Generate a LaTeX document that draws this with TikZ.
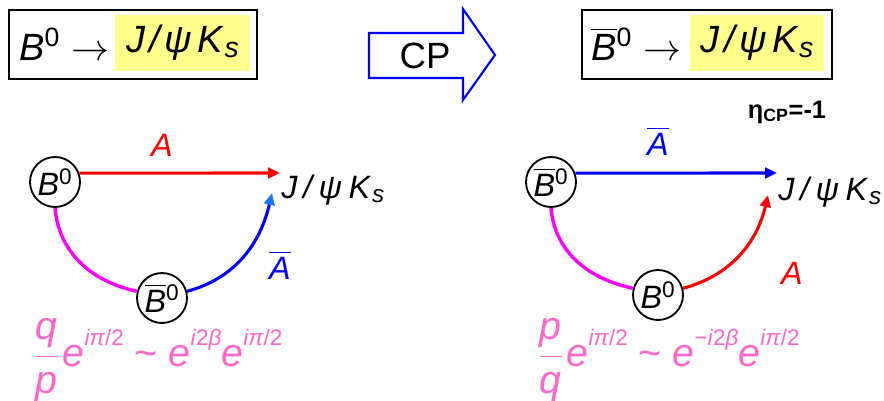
\RequirePackage{fix-cm}
\documentclass[tikz,border=0pt]{standalone}
\usepackage{amsmath}
\usepackage{fontspec}
\setmainfont{Liberation Sans}
\usetikzlibrary{arrows.meta,positioning}
\definecolor{hlyellow}{RGB}{255,255,140}
\definecolor{ampred}{RGB}{255,0,0}
\definecolor{ampblue}{RGB}{0,0,255}
\definecolor{tipblue}{RGB}{20,120,255}
\definecolor{mixmag}{RGB}{255,0,255}
\definecolor{phasepink}{RGB}{255,102,204}
\newcommand{\Bz}{\textit{B}\textsuperscript{0}}
\newcommand{\Bbz}{$\overline{\mbox{\itshape B}}$\textsuperscript{0}}
\newcommand{\Abar}{$\overline{\mbox{\itshape A}}$}
\newcommand{\fstate}{\textit{J\kern.18em/\kern.2emψ\kern.2emK}\kern.02em\raisebox{-.25ex}{\textsmaller{s}}}
\newcommand{\textsmaller}[1]{{\fontsize{.75\dimexpr\fontdimen6\font}{1em}\selectfont\itshape #1}}
\newcommand{\expo}[1]{\raisebox{1.0ex}{\fontsize{16}{16}\selectfont #1}}
\newcommand{\ph}{\textit{e}\expo{\textit{iπ}/2}}

\begin{document}
\begin{tikzpicture}[x=0.025cm,y=0.025cm,
  meson/.style={draw, circle, line width=1.3pt, minimum size=1.25cm, inner sep=0pt, font=\fontsize{23}{25}\selectfont},
  decay/.style={line width=2.2pt, -{Triangle[length=8.5pt,width=7.5pt]}},
  mixing/.style={line width=2.4pt, mixmag},
  lbl/.style={font=\fontsize{23}{25}\selectfont},
  topbox/.style={draw, line width=1.5pt, minimum width=#1, minimum height=1.725cm},
  hl/.style={fill=hlyellow, minimum width=#1, minimum height=1.4cm, inner sep=0pt, font=\fontsize{27}{30}\selectfont},
  phase/.style={phasepink, anchor=west, inner sep=0pt, font=\fontsize{28}{30}\selectfont}]
\useasboundingbox (0,0) rectangle (884,-401);

% top row
\node[topbox=6.2cm] (boxL) at (133,-44.5) {};
\node[hl=3.375cm] (hlL) at (182.5,-43) {\textit{J\kern.12em/\kern.12emψ\kern.15emK}\raisebox{-.25ex}{\textsmaller{s}}};
\node[anchor=west, inner sep=0pt, font=\fontsize{27}{30}\selectfont] (decL) at (19,-44) {\Bz\hspace{.3em}$\rightarrow$};

\draw[ampblue, line width=1.5pt] (369,-33) -- (463,-33) -- (463,-9) -- (495,-55) -- (463,-100) -- (463,-78) -- (369,-78) -- cycle;
\node[font=\fontsize{26}{28}\selectfont] (cp) at (425,-56) {CP};

\node[topbox=6.25cm] (boxR) at (707,-44.5) {};
\node[hl=3.35cm] (hlR) at (757,-43) {\textit{J\kern.12em/\kern.12emψ\kern.15emK}\raisebox{-.25ex}{\textsmaller{s}}};
\node[anchor=west, inner sep=0pt, font=\fontsize{27}{30}\selectfont] (decR) at (591,-44) {\Bbz\hspace{.3em}$\rightarrow$};

\node[font=\bfseries\fontsize{18}{20}\selectfont] (eta) at (787,-112) {η\textsubscript{CP}=-1};

% left: B0 -> J/psi Ks
\node[meson] (bL) at (55,-182) {\Bz};
\node[meson] (bbL) at (162,-298) {\Bbz};
\node[lbl, anchor=west, inner sep=0pt] (fL) at (281,-190) {\fstate};
\coordinate (tipL) at (280,-173);
\coordinate (tipL2) at (272,-193);
\draw[decay, ampred] (bL.20) -- (tipL);
\draw[mixing] (bL.south) to[out=-85, in=168] (bbL.165);
\draw[decay, ampblue, -{Triangle[length=8.5pt,width=7.5pt,color=tipblue]}] (bbL.15) to[out=15, in=-103] (tipL2);
\node[lbl, ampred] (aL) at (162,-145) {\textit{A}};
\node[lbl, ampblue] (abL) at (280,-265) {\Abar};
\node[phase] (phL) at (34,-360) {$\displaystyle\frac{\text{\itshape q}}{\text{\itshape p}}$\kern.08em\ph\ \textasciitilde\ \textit{e}\expo{\textit{i}2\textit{β}}\ph};

% right: B0bar -> J/psi Ks
\node[meson] (bbR) at (551,-182) {\Bbz};
\node[meson] (bR) at (658,-295) {\Bz};
\node[lbl, anchor=west, inner sep=0pt] (fR) at (778,-192) {\fstate};
\coordinate (tipR) at (777,-173);
\coordinate (tipR2) at (768,-195);
\draw[decay, ampblue] (bbR.20) -- (tipR);
\draw[mixing] (bbR.south) to[out=-85, in=168] (bR.165);
\draw[decay, ampred] (bR.15) to[out=15, in=-103] (tipR2);
\node[lbl, ampblue] (abR) at (658,-141) {\Abar};
\node[lbl, ampred] (aR) at (792,-273) {\textit{A}};
\node[phase] (phR) at (538,-360) {$\displaystyle\frac{\text{\itshape p}}{\text{\itshape q}}$\kern.08em\ph\ \textasciitilde\ \textit{e}\expo{−\textit{i}2\textit{β}}\ph};
\end{tikzpicture}
\end{document}
